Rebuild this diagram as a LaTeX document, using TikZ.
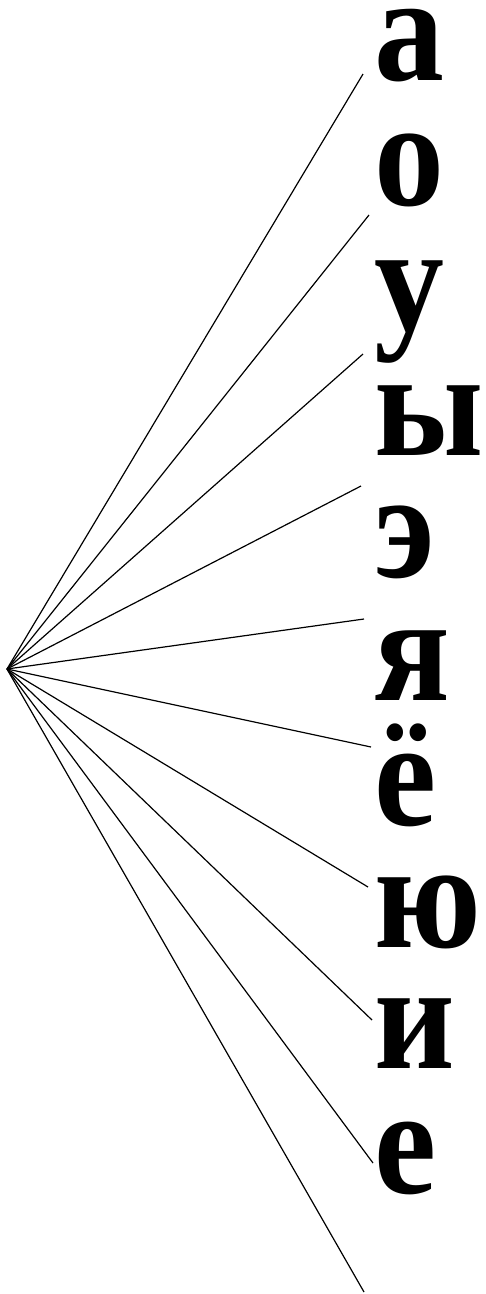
\documentclass[tikz,border=0pt]{standalone}
\usepackage{fontspec}
\setmainfont{Liberation Serif}[BoldFont={Liberation Serif Bold}]
\begin{document}
\begin{tikzpicture}[x=1pt,y=-1pt,
  letter/.style={anchor=base west,inner sep=0pt,xscale=0.92,font=\bfseries\fontsize{152}{152}\selectfont},
  ray/.style={line width=1.2pt}]
\useasboundingbox (0,0) rectangle (485,1294);
\coordinate (o) at (7,669);
\node[letter] (l1) at (374,80) {а};
\node[letter] (l2) at (374,205) {о};
\node[letter] (l3) at (374,330) {у};
\node[letter] (l4) at (374,455) {ы};
\node[letter] (l5) at (374,577) {э};
\node[letter] (l6) at (374,700) {я};
\node[letter] (l7) at (374,825) {ё};
\node[letter] (l8) at (374,947) {ю};
\node[letter] (l9) at (374,1068) {и};
\node[letter] (l10) at (374,1193) {е};
\coordinate (e1) at (363,74);
\coordinate (e2) at (369,215);
\coordinate (e3) at (363,354);
\coordinate (e4) at (361,486);
\coordinate (e5) at (364,619);
\coordinate (e6) at (371,747);
\coordinate (e7) at (368,887);
\coordinate (e8) at (372,1020);
\coordinate (e9) at (373,1163);
\coordinate (e10) at (364,1292);
\foreach \i in {1,...,10} \draw[ray] (o) -- (e\i);
\end{tikzpicture}
\end{document}
